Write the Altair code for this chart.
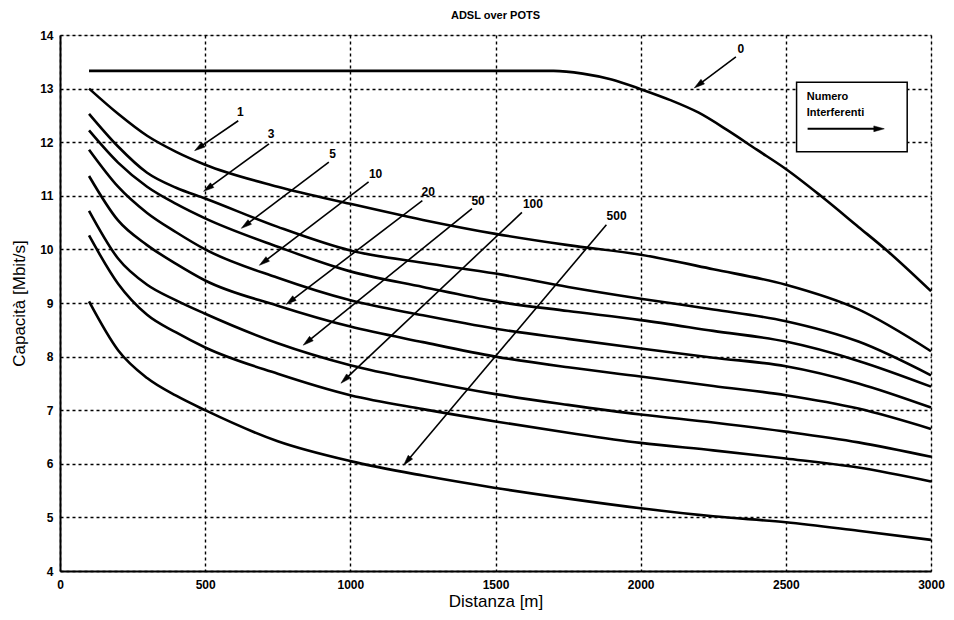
import math
import altair as alt
import pandas as pd

# ---- data ----
dist = [100, 200, 300, 400, 500, 750, 1000, 1250, 1500, 1750, 2000, 2250, 2500, 2750, 3000]
cap_1 = [13.0, 12.53, 12.12, 11.82, 11.58, 11.17, 10.85, 10.55, 10.29, 10.08, 9.90, 9.63, 9.34, 8.88, 8.1]
cap_3 = [12.53, 11.92, 11.43, 11.15, 10.95, 10.42, 9.98, 9.75, 9.55, 9.3, 9.08, 8.88, 8.66, 8.28, 7.65]
cap_5 = [12.22, 11.62, 11.17, 10.85, 10.58, 10.05, 9.59, 9.3, 9.03, 8.85, 8.68, 8.48, 8.28, 7.92, 7.44]
cap_10 = [11.86, 11.17, 10.68, 10.32, 10.0, 9.47, 9.05, 8.77, 8.52, 8.33, 8.15, 7.98, 7.82, 7.5, 7.05]
cap_20 = [11.37, 10.54, 10.08, 9.73, 9.42, 8.95, 8.56, 8.27, 8.0, 7.8, 7.63, 7.45, 7.28, 7.03, 6.65]
cap_50 = [10.72, 9.83, 9.34, 9.05, 8.8, 8.25, 7.84, 7.55, 7.3, 7.1, 6.92, 6.77, 6.6, 6.4, 6.13]
cap_100 = [10.26, 9.36, 8.78, 8.45, 8.17, 7.68, 7.28, 7.02, 6.79, 6.58, 6.39, 6.25, 6.1, 5.93, 5.67]
cap_500 = [9.03, 8.12, 7.6, 7.27, 7.0, 6.42, 6.05, 5.78, 5.55, 5.35, 5.17, 5.02, 4.91, 4.75, 4.58]

dist_0 = [100, 500, 1000, 1500, 1700, 1800, 1900, 2000, 2100, 2200, 2300, 2400, 2500, 2620, 2750, 2850, 3000]
cap_0 = [13.33, 13.33, 13.33, 13.33, 13.33, 13.28, 13.17, 12.99, 12.79, 12.55, 12.22, 11.86, 11.5, 11.0, 10.42, 9.97, 9.22]

# curve labels with arrows (data coordinates)
ann_labels = ["0", "1", "3", "5", "10", "20", "50", "100", "500"]
ann_text_x = [2345, 621, 727, 939, 1087, 1268, 1440, 1629, 1917]
ann_text_y = [13.74, 12.57, 12.16, 11.78, 11.41, 11.08, 10.91, 10.85, 10.63]
arr_start_x = [2328, 614, 720, 926, 1063, 1248, 1419, 1591, 1882]
arr_start_y = [13.59, 12.4, 11.97, 11.63, 11.26, 10.91, 10.76, 10.69, 10.46]
arr_tip_x = [2184, 463, 494, 624, 686, 778, 837, 967, 1183]
arr_tip_y = [13.01, 11.84, 11.08, 10.39, 9.7, 8.97, 8.21, 7.5, 5.97]

# legend box "Numero Interferenti"
box_x = [2537]
box_x2 = [2918]
box_y = [13.12]
box_y2 = [11.82]
box_text = ["Numero", "Interferenti"]
box_text_x = [2572, 2572]
box_text_y = [12.85, 12.55]
box_arrow_x = [2575]
box_arrow_x2 = [2840]
box_arrow_y = [12.25]

W, H = 871, 536
XMAX, YMIN, YMAX = 3000, 4, 14
sx = W / XMAX
sy = H / (YMAX - YMIN)

# ---- tables ----
rows = []
for name, vals in [("1", cap_1), ("3", cap_3), ("5", cap_5), ("10", cap_10), ("20", cap_20),
                   ("50", cap_50), ("100", cap_100), ("500", cap_500)]:
    for d, v in zip(dist, vals):
        rows.append({"curve": name, "d": d, "c": v})
for d, v in zip(dist_0, cap_0):
    rows.append({"curve": "0", "d": d, "c": v})
lines_df = pd.DataFrame(rows)

arr_rows = []
head_rows = []
HEAD_BACK = 5.5  # px, so the head's tip sits at the arrow end
for i in range(len(ann_labels)):
    dxp = (arr_tip_x[i] - arr_start_x[i]) * sx
    dyp = -(arr_tip_y[i] - arr_start_y[i]) * sy
    L = math.hypot(dxp, dyp)
    ang = math.degrees(math.atan2(dxp, -dyp)) % 360
    hx = arr_tip_x[i] - dxp / L * HEAD_BACK / sx
    hy = arr_tip_y[i] + dyp / L * HEAD_BACK / sy
    arr_rows.append({"x": arr_start_x[i], "y": arr_start_y[i], "x2": hx, "y2": hy, "w": 1.6})
    head_rows.append({"x": hx, "y": hy, "ang": ang})
# legend arrow
bx2 = box_arrow_x2[0] - HEAD_BACK / sx
arr_rows.append({"x": box_arrow_x[0], "y": box_arrow_y[0], "x2": bx2, "y2": box_arrow_y[0], "w": 2.0})
head_rows.append({"x": bx2, "y": box_arrow_y[0], "ang": 90.0})
arr_df = pd.DataFrame(arr_rows)
head_df = pd.DataFrame(head_rows)
lab_df = pd.DataFrame({"t": ann_labels, "x": ann_text_x, "y": ann_text_y})
box_df = pd.DataFrame({"x": box_x, "x2": box_x2, "y": box_y, "y2": box_y2})
boxt_df = pd.DataFrame({"t": box_text, "x": box_text_x, "y": box_text_y})

xs = alt.Scale(domain=[0, XMAX], nice=False, zero=False)
ys = alt.Scale(domain=[YMIN, YMAX], nice=False, zero=False)

xaxis = alt.Axis(values=[0, 500, 1000, 1500, 2000, 2500, 3000], format="d", title="Distanza [m]",
                 grid=True, gridColor="black", gridDash=[3, 3], gridWidth=1.4, gridOpacity=1,
                 ticks=False, domainColor="black", domainWidth=2,
                 labelFont="Liberation Sans", labelFontWeight="bold", labelFontSize=12, labelColor="black",
                 labelPadding=8, labelFlush=False,
                 titleFont="Liberation Sans", titleFontSize=17, titleFontWeight="normal", titleColor="black",
                 titlePadding=3)
yaxis = alt.Axis(values=list(range(4, 15)), format="d", title="Capacità [Mbit/s]",
                 grid=True, gridColor="black", gridDash=[3, 3], gridWidth=1.4, gridOpacity=1,
                 ticks=False, domainColor="black", domainWidth=2,
                 labelFont="Liberation Sans", labelFontWeight="bold", labelFontSize=12, labelColor="black",
                 labelPadding=7, labelFlush=False,
                 titleFont="Liberation Sans", titleFontSize=17, titleFontWeight="normal", titleColor="black",
                 titlePadding=11)

lines = alt.Chart(lines_df).mark_line(color="black", strokeWidth=2.6, interpolate="monotone").encode(
    x=alt.X("d:Q", scale=xs, axis=xaxis),
    y=alt.Y("c:Q", scale=ys, axis=yaxis),
    detail="curve:N",
)

box = alt.Chart(box_df).mark_rect(fill="white", stroke="black", strokeWidth=1.5).encode(
    x="x:Q", x2="x2:Q", y="y:Q", y2="y2:Q")

arrows = alt.Chart(arr_df).mark_rule(color="black").encode(
    x="x:Q", y="y:Q", x2="x2:Q", y2="y2:Q",
    strokeWidth=alt.StrokeWidth("w:Q", scale=None))

heads = alt.Chart(head_df).mark_point(shape="M0,-1L0.55,1L-0.55,1Z", filled=True, fill="black",
                                      stroke="black", strokeWidth=0.5, size=110, opacity=1).encode(
    x="x:Q", y="y:Q", angle=alt.Angle("ang:Q", scale=None))

labels = alt.Chart(lab_df).mark_text(font="Liberation Sans", fontWeight="bold", fontSize=12,
                                     color="black", align="center", baseline="middle").encode(
    x="x:Q", y="y:Q", text="t:N")

boxt = alt.Chart(boxt_df).mark_text(font="Liberation Sans", fontWeight="bold", fontSize=11,
                                    color="black", align="left", baseline="middle").encode(
    x="x:Q", y="y:Q", text="t:N")

chart = alt.layer(lines, box, arrows, heads, labels, boxt).properties(
    width=W, height=H,
    title=alt.TitleParams("ADSL over POTS", font="Liberation Sans", fontSize=11, fontWeight="bold",
                          color="black", anchor="middle", offset=8),
    autosize=alt.AutoSizeParams(type="none"),
    padding={"left": 52, "top": 27, "right": 15, "bottom": 41},
).configure_view(stroke="black", strokeWidth=1.5, fill="white").configure(background="white")

chart.save("out.html", embed_options={"renderer": "svg", "actions": False})
